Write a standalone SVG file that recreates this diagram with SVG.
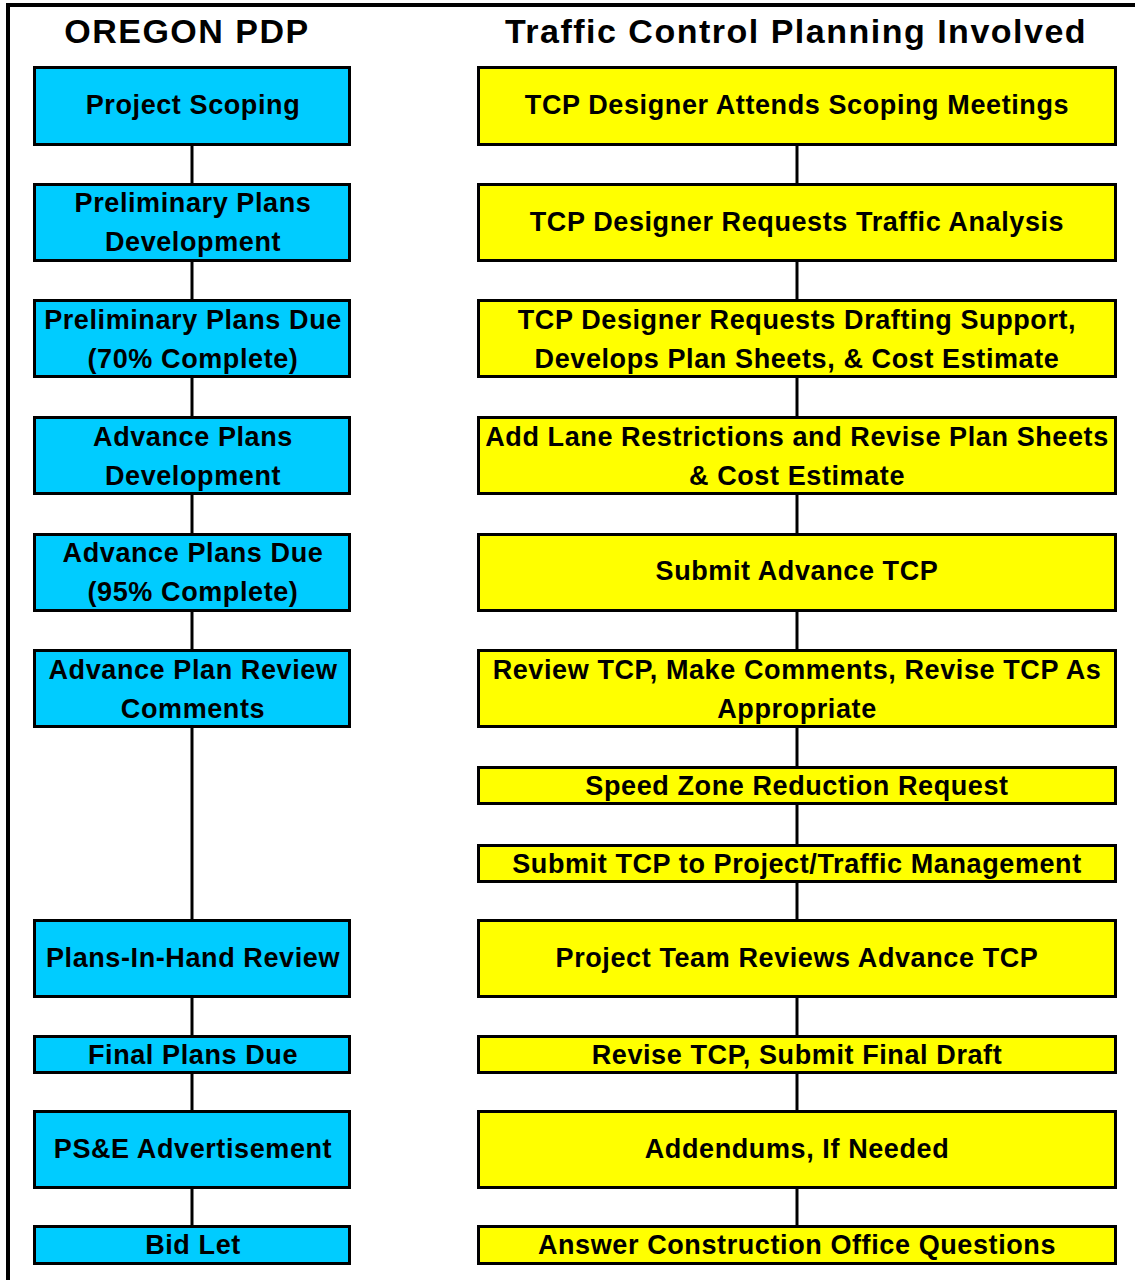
<svg xmlns="http://www.w3.org/2000/svg" width="1135" height="1280" viewBox="0 0 1135 1280">
<style>
.frame{fill:none;stroke:#000;stroke-width:4}
.b{fill:#00CCFF;stroke:#000;stroke-width:3}
.y{fill:#FFFF00;stroke:#000;stroke-width:3}
.c{stroke:#000;stroke-width:3;fill:none}
text{font-family:"Liberation Sans",Arial,sans-serif;font-weight:bold;fill:#000;text-anchor:middle}
.t{font-size:27px;letter-spacing:0.6px}
.h{font-size:34px;letter-spacing:1.5px}
</style>
<rect width="1135" height="1280" fill="#fff"/>
<path class="frame" d="M8 1280 V5 H1135"/>
<text class="h" x="187" y="43">OREGON PDP</text>
<text class="h" x="796" y="43">Traffic Control Planning Involved</text>
<g id="connectors">
<line class="c" x1="192" y1="146" x2="192" y2="183"/>
<line class="c" x1="192" y1="262" x2="192" y2="299"/>
<line class="c" x1="192" y1="378" x2="192" y2="416"/>
<line class="c" x1="192" y1="495" x2="192" y2="533"/>
<line class="c" x1="192" y1="611" x2="192" y2="649"/>
<line class="c" x1="192" y1="728" x2="192" y2="919"/>
<line class="c" x1="192" y1="998" x2="192" y2="1035"/>
<line class="c" x1="192" y1="1074" x2="192" y2="1110"/>
<line class="c" x1="192" y1="1189" x2="192" y2="1225"/>
<line class="c" x1="797" y1="146" x2="797" y2="183"/>
<line class="c" x1="797" y1="262" x2="797" y2="299"/>
<line class="c" x1="797" y1="378" x2="797" y2="416"/>
<line class="c" x1="797" y1="495" x2="797" y2="533"/>
<line class="c" x1="797" y1="611" x2="797" y2="649"/>
<line class="c" x1="797" y1="728" x2="797" y2="766"/>
<line class="c" x1="797" y1="805" x2="797" y2="844"/>
<line class="c" x1="797" y1="883" x2="797" y2="919"/>
<line class="c" x1="797" y1="998" x2="797" y2="1035"/>
<line class="c" x1="797" y1="1074" x2="797" y2="1110"/>
<line class="c" x1="797" y1="1189" x2="797" y2="1225"/>
</g>
<g id="L1"><rect class="b" x="34.5" y="67.5" width="315" height="77"/><text class="t" x="193" y="114">Project Scoping</text></g>
<g id="L2"><rect class="b" x="34.5" y="184.5" width="315" height="76"/><text class="t" x="193" y="212">Preliminary Plans</text><text class="t" x="193" y="251">Development</text></g>
<g id="L3"><rect class="b" x="34.5" y="300.5" width="315" height="76"/><text class="t" x="193" y="329">Preliminary Plans Due</text><text class="t" x="193" y="368">(70% Complete)</text></g>
<g id="L4"><rect class="b" x="34.5" y="417.5" width="315" height="76"/><text class="t" x="193" y="446">Advance Plans</text><text class="t" x="193" y="485">Development</text></g>
<g id="L5"><rect class="b" x="34.5" y="534.5" width="315" height="76"/><text class="t" x="193" y="562">Advance Plans Due</text><text class="t" x="193" y="601">(95% Complete)</text></g>
<g id="L6"><rect class="b" x="34.5" y="650.5" width="315" height="76"/><text class="t" x="193" y="679">Advance Plan Review</text><text class="t" x="193" y="718">Comments</text></g>
<g id="L7"><rect class="b" x="34.5" y="920.5" width="315" height="76"/><text class="t" x="193" y="967">Plans-In-Hand Review</text></g>
<g id="L8"><rect class="b" x="34.5" y="1036.5" width="315" height="36"/><text class="t" x="193" y="1064">Final Plans Due</text></g>
<g id="L9"><rect class="b" x="34.5" y="1111.5" width="315" height="76"/><text class="t" x="193" y="1158">PS&amp;E Advertisement</text></g>
<g id="L10"><rect class="b" x="34.5" y="1226.5" width="315" height="37"/><text class="t" x="193" y="1254">Bid Let</text></g>
<g id="R1"><rect class="y" x="478.5" y="67.5" width="637" height="77"/><text class="t" x="797" y="114">TCP Designer Attends Scoping Meetings</text></g>
<g id="R2"><rect class="y" x="478.5" y="184.5" width="637" height="76"/><text class="t" x="797" y="231">TCP Designer Requests Traffic Analysis</text></g>
<g id="R3"><rect class="y" x="478.5" y="300.5" width="637" height="76"/><text class="t" x="797" y="329">TCP Designer Requests Drafting Support,</text><text class="t" x="797" y="368">Develops Plan Sheets, &amp; Cost Estimate</text></g>
<g id="R4"><rect class="y" x="478.5" y="417.5" width="637" height="76"/><text class="t" x="797" y="446">Add Lane Restrictions and Revise Plan Sheets</text><text class="t" x="797" y="485">&amp; Cost Estimate</text></g>
<g id="R5"><rect class="y" x="478.5" y="534.5" width="637" height="76"/><text class="t" x="797" y="580">Submit Advance TCP</text></g>
<g id="R6"><rect class="y" x="478.5" y="650.5" width="637" height="76"/><text class="t" x="797" y="679">Review TCP, Make Comments, Revise TCP As</text><text class="t" x="797" y="718">Appropriate</text></g>
<g id="R7"><rect class="y" x="478.5" y="767.5" width="637" height="36"/><text class="t" x="797" y="795">Speed Zone Reduction Request</text></g>
<g id="R8"><rect class="y" x="478.5" y="845.5" width="637" height="36"/><text class="t" x="797" y="873">Submit TCP to Project/Traffic Management</text></g>
<g id="R9"><rect class="y" x="478.5" y="920.5" width="637" height="76"/><text class="t" x="797" y="967">Project Team Reviews Advance TCP</text></g>
<g id="R10"><rect class="y" x="478.5" y="1036.5" width="637" height="36"/><text class="t" x="797" y="1064">Revise TCP, Submit Final Draft</text></g>
<g id="R11"><rect class="y" x="478.5" y="1111.5" width="637" height="76"/><text class="t" x="797" y="1158">Addendums, If Needed</text></g>
<g id="R12"><rect class="y" x="478.5" y="1226.5" width="637" height="37"/><text class="t" x="797" y="1254">Answer Construction Office Questions</text></g>
</svg>
